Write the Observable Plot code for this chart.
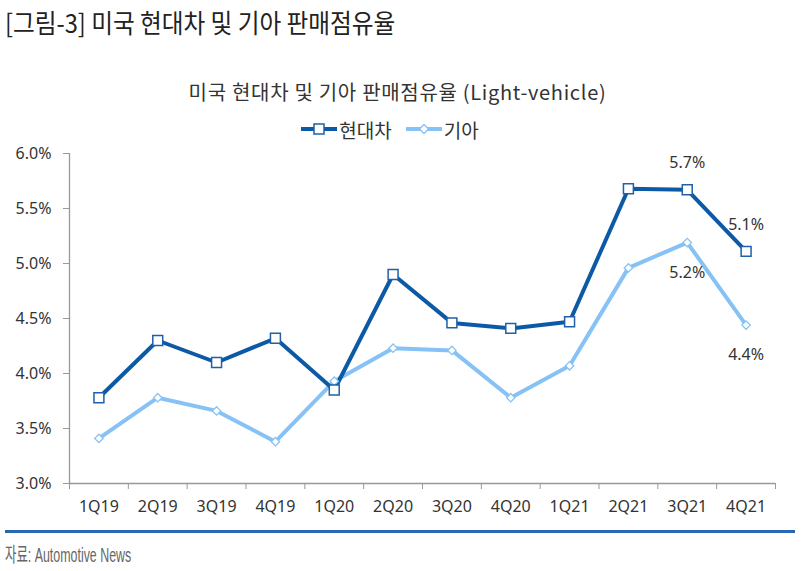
<!DOCTYPE html>
<html><head><meta charset="utf-8">
<script src="https://cdn.jsdelivr.net/npm/d3@7"></script>
<script src="https://cdn.jsdelivr.net/npm/@observablehq/plot@0.6"></script>
<style>
body{margin:0;background:#fff;width:801px;height:571px;position:relative;overflow:hidden;font-family:"Noto Sans","Noto Sans CJK KR",sans-serif;}
#title{position:absolute;left:5px;top:3px;font-family:"Noto Sans CJK KR",sans-serif;font-size:26px;font-weight:400;color:#222;transform:scaleX(0.91);transform-origin:left top;white-space:nowrap;}
#sub{position:absolute;left:0;width:795px;top:77px;text-align:center;font-family:"Noto Sans CJK KR","Noto Sans",sans-serif;font-size:20px;color:#333;letter-spacing:0.7px;}
#legend{position:absolute;left:0;width:780px;top:114px;text-align:center;font-family:"Noto Sans CJK KR",sans-serif;font-size:19px;color:#333;}
#legend span.item{display:inline-flex;align-items:center;margin:0 7px;}
#chart{position:absolute;left:0;top:140px;}
#rule{position:absolute;left:5px;top:530px;width:790px;height:3px;background:#2b67b1;}
#cap{position:absolute;left:5px;top:539px;font-family:"Liberation Sans","Noto Sans CJK KR",sans-serif;font-size:20px;color:#666;transform:scaleX(0.62);transform-origin:left top;white-space:nowrap;}
</style></head>
<body>
<div id="title">[그림-3] 미국 현대차 및 기아 판매점유율</div>
<div id="sub">미국 현대차 및 기아 판매점유율 (Light-vehicle)</div>
<div id="legend"></div>
<div id="chart"></div>
<div id="rule"></div>
<div id="cap">자료: Automotive News</div>
<script>
const quarters = ["1Q19","2Q19","3Q19","4Q19","1Q20","2Q20","3Q20","4Q20","1Q21","2Q21","3Q21","4Q21"];
const hyundai = [3.78,4.30,4.10,4.32,3.85,4.90,4.46,4.41,4.47,5.68,5.67,5.11];
const kia     = [3.41,3.78,3.66,3.38,3.93,4.23,4.21,3.78,4.07,4.96,5.19,4.44];
const seriesNames = ["현대차","기아"];
const yTicks = [3.0,3.5,4.0,4.5,5.0,5.5,6.0];
const hyundaiLabelQuarters = ["3Q21","4Q21"];
const kiaLabelQuarters = ["3Q21","4Q21"];

const colors = {"현대차":"#0c5aa6","기아":"#86c2f6"};

const data = [];
quarters.forEach((q,i)=>{
  data.push({series:"현대차", q, i, v:hyundai[i]});
  data.push({series:"기아", q, i, v:kia[i]});
});
const hData = data.filter(d=>d.series==="현대차");
const kData = data.filter(d=>d.series==="기아");
const boundaries = d3.range(quarters.length+1);
const centers = quarters.map((q,i)=>i+0.5);

const chart = Plot.plot({
  width:801, height:370,
  marginLeft:69, marginRight:26, marginTop:13, marginBottom:27,
  x:{type:"linear", domain:[0,quarters.length]},
  y:{domain:[3,6]},
  style:{fontFamily:"'Noto Sans',sans-serif", fontSize:"16px", color:"#333", overflow:"visible"},
  marks:[
    Plot.axisY({ticks:yTicks, tickSize:6, tickPadding:12, tickFormat:d=>d.toFixed(1)+"%", stroke:"#999", fontSize:16, fill:"#333", label:null}),
    Plot.axisX({ticks:boundaries, tickSize:6, tickFormat:()=>"", stroke:"#999", label:null}),
    Plot.axisX({ticks:centers, tickSize:0, tickPadding:17, tickFormat:d=>quarters[Math.round(d-0.5)], fontSize:16, fill:"#333", label:null}),
    Plot.ruleX([0], {stroke:"#999", strokeWidth:1.3}),
    Plot.ruleY([3], {stroke:"#999", strokeWidth:1.3}),
    Plot.line(kData, {x:d=>d.i+0.5, y:"v", stroke:colors["기아"], strokeWidth:4}),
    Plot.line(hData, {x:d=>d.i+0.5, y:"v", stroke:colors["현대차"], strokeWidth:4}),
    Plot.dot(kData, {x:d=>d.i+0.5, y:"v", symbol:"diamond2", r:3.8, fill:"white", stroke:colors["기아"], strokeWidth:1.3}),
    Plot.dot(hData, {x:d=>d.i+0.5, y:"v", symbol:"square", r:5.6, fill:"white", stroke:"#2060a8", strokeWidth:1.5}),
    Plot.text(hData.filter(d=>hyundaiLabelQuarters.includes(d.q)), {x:d=>d.i+0.5, y:"v", text:d=>d.v.toFixed(1)+"%", dy:-27, fontSize:16, fill:"#333"}),
    Plot.text(kData.filter(d=>kiaLabelQuarters.includes(d.q)), {x:d=>d.i+0.5, y:"v", text:d=>d.v.toFixed(1)+"%", dy:30, fontSize:16, fill:"#333"})
  ]
});
document.getElementById("chart").appendChild(chart);

// legend
const leg = document.getElementById("legend");
seriesNames.forEach(name=>{
  const span = document.createElement("span");
  span.className="item";
  const sym = name==="현대차"
    ? `<svg width="36" height="14"><line x1="0" y1="7" x2="36" y2="7" stroke="${colors[name]}" stroke-width="4"/><rect x="13" y="2" width="10" height="10" fill="white" stroke="#2060a8" stroke-width="1.5"/></svg>`
    : `<svg width="36" height="14"><line x1="0" y1="7" x2="36" y2="7" stroke="${colors[name]}" stroke-width="4"/><path d="M18,2.5L22.5,7L18,11.5L13.5,7Z" fill="white" stroke="${colors[name]}" stroke-width="1.3"/></svg>`;
  span.innerHTML = sym + `<span style="margin-left:2px">${name}</span>`;
  leg.appendChild(span);
});
</script>
</body></html>
